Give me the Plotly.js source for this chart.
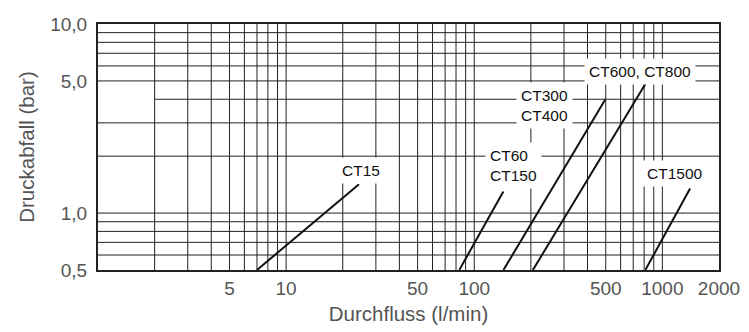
<!DOCTYPE html>
<html>
<head>
<meta charset="utf-8">
<script src="https://cdn.plot.ly/plotly-3.0.1.min.js"></script>
<style>html,body{margin:0;padding:0;background:#fff;}#chart{width:749px;height:332px;}</style>
</head>
<body>
<div id="chart"></div>
<script>
// ---- data ----
const seriesNames = ["CT15", "CT60/CT150", "CT300/CT400", "CT600/CT800", "CT1500"];
const ct15X = [7, 24.4];     const ct15Y = [0.5, 1.42];
const ct60X = [83.3, 142.8]; const ct60Y = [0.5, 1.30];
const ct300X = [143, 498];   const ct300Y = [0.5, 4.0];
const ct600X = [205, 812];   const ct600Y = [0.5, 4.82];
const ct1500X = [812, 1404]; const ct1500Y = [0.5, 1.35];

const xTickVals = [5, 10, 50, 100, 500, 1000, 2000];
const xTickText = ["5", "10", "50", "100", "500", "1000", "2000"];
const yTickVals = [0.5, 1, 5, 10];
const yTickText = ["0,5", "1,0", "5,0", "10,0"];

const xGridVals = [2,3,4,5,6,7,8,9,10,20,30,40,50,60,70,80,90,100,200,300,400,500,600,700,800,900,1000];
const yGridVals = [0.6,0.7,0.8,0.9,1,2,3,5,6,7,8,9];
const yGridShortVals = [4];

const labelTexts = ["CT15", "CT60<br>CT150", "CT300<br>CT400", "CT600, CT800", "CT1500"];

// ---- build ----
const xs = [ct15X, ct60X, ct300X, ct600X, ct1500X];
const ys = [ct15Y, ct60Y, ct300Y, ct600Y, ct1500Y];
const traces = xs.map((x, i) => ({
  x: x, y: ys[i], name: seriesNames[i], type: 'scatter', mode: 'lines',
  line: {color: '#111', width: 2}, showlegend: false, hoverinfo: 'skip'
}));

const XMIN = 1, XMAX = 2000, YMIN = 0.5, YMAX = 10;
const gridStyle = {color: '#222', width: 1};
const shapes = [];
xGridVals.forEach(v => shapes.push({type: 'line', xref: 'x', yref: 'y', x0: v, x1: v, y0: YMIN, y1: YMAX, line: gridStyle, layer: 'below'}));
yGridVals.forEach(v => shapes.push({type: 'line', xref: 'x', yref: 'y', x0: XMIN, x1: XMAX, y0: v, y1: v, line: gridStyle, layer: 'below'}));
yGridShortVals.forEach(v => shapes.push({type: 'line', xref: 'x', yref: 'y', x0: 2, x1: XMAX, y0: v, y1: v, line: gridStyle, layer: 'below'}));

const labelPos = [[25.0, 1.68], [160.8, 1.776], [236.5, 3.69], [761, 5.61], [1168, 1.62]];
const labelAlign = ['center', 'left', 'left', 'center', 'center'];
const annotations = labelTexts.map((t, i) => ({
  text: t, xref: 'x', yref: 'y',
  x: Math.log10(labelPos[i][0]), y: Math.log10(labelPos[i][1]),
  xanchor: 'center', yanchor: 'middle', align: labelAlign[i],
  showarrow: false, bgcolor: '#ffffff', borderpad: 4,
  font: {family: 'Liberation Sans, Arial, sans-serif', size: 15.5, color: '#111'}
}));

const tickFont = {family: 'Liberation Sans, Arial, sans-serif', size: 19, color: '#555'};
const titleFont = {family: 'Liberation Sans, Arial, sans-serif', size: 20.5, color: '#555'};

const layout = {
  width: 749, height: 332,
  margin: {l: 98, r: 30, t: 24, b: 62},
  paper_bgcolor: '#fff', plot_bgcolor: '#fff',
  showlegend: false,
  xaxis: {
    type: 'log', range: [Math.log10(XMIN), Math.log10(XMAX)],
    tickmode: 'array', tickvals: xTickVals, ticktext: xTickText,
    showgrid: false, zeroline: false, ticks: '', ticklabelstandoff: 0,
    showline: true, mirror: true, linecolor: '#222', linewidth: 2,
    tickfont: tickFont,
    title: {text: 'Durchfluss (l/min)', font: titleFont, standoff: 9}
  },
  yaxis: {
    type: 'log', range: [Math.log10(YMIN), Math.log10(YMAX)],
    tickmode: 'array', tickvals: yTickVals, ticktext: yTickText,
    showgrid: false, zeroline: false, ticks: '', ticklabelstandoff: 5,
    showline: true, mirror: true, linecolor: '#222', linewidth: 2,
    tickfont: tickFont,
    title: {text: 'Druckabfall (bar)', font: titleFont, standoff: 10}
  },
  shapes: shapes,
  annotations: annotations
};

Plotly.newPlot('chart', traces, layout, {staticPlot: true, displayModeBar: false});
</script>
</body>
</html>
